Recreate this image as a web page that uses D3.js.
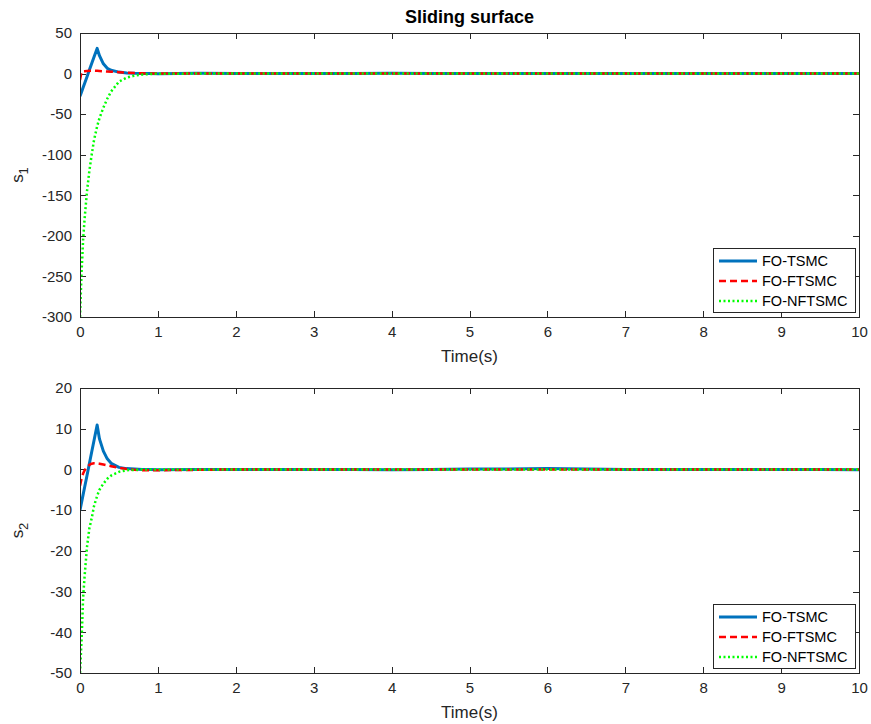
<!DOCTYPE html>
<html>
<head>
<meta charset="utf-8">
<title>Sliding surface</title>
<script src="https://cdn.jsdelivr.net/npm/d3@7"></script>
<style>
  body { margin: 0; background: #fff; }
  svg { font-family: "Liberation Sans", Arial, Helvetica, sans-serif; }
  .axis text { font-size: 15px; fill: #262626; }
  .axis line { stroke: #262626; shape-rendering: crispEdges; }
  .frame { fill: none; stroke: #262626; shape-rendering: crispEdges; }
  .lbl { font-size: 17px; fill: #262626; }
  .leg text { font-size: 14.5px; fill: #000; }
</style>
</head>
<body>
<script>
// time samples (s) - dense near the start where things move
var time = [0, 0.02, 0.04, 0.06, 0.09, 0.12, 0.15, 0.18, 0.22, 0.25, 0.3, 0.35, 0.4, 0.5, 0.6, 0.7, 0.8, 0.9, 1,
            1.5, 2, 2.5, 3, 3.5, 4, 4.5, 5, 5.5, 6, 6.5, 7, 7.5, 8, 8.5, 9, 9.5, 10];

// s1
var s1_tsmc   = [-28, -22.6, -17.2, -11.8, -3.8, 4.3, 12.3, 20.3, 31, 22, 12, 6.5, 4, 1.8, 0.8, 0.3, 0.1, 0, -0.2,
                 0.4, 0, 0.2, 0.1, 0, 0.3, 0.1, 0.2, 0, 0.1, 0, 0.1, 0, 0, 0.1, 0, 0, 0];
var s1_ftsmc  = [-8, 2.3, 2.8, 3, 3.3, 3.5, 3.6, 3.6, 3.4, 3.2, 2.9, 2.6, 2.3, 1.7, 1.1, 0.6, 0.3, 0.1, 0,
                 0, 0, 0, 0, 0, 0, 0, 0, 0, 0, 0, 0, 0, 0, 0, 0, 0, 0];
var s1_nftsmc = [-300, -245, -205, -178, -145, -120, -100, -82, -65, -55, -42, -31, -22, -10, -5, -2.5, -1.2, -0.5, -0.2,
                 0, 0, 0, 0, 0, 0, 0, 0, 0, 0, 0, 0, 0, 0, 0, 0, 0, 0];

// s2
var s2_tsmc   = [-10, -8.1, -6.2, -4.3, -1.5, 1.4, 4.3, 7.1, 10.9, 7.5, 4.5, 2.6, 1.5, 0.5, 0.2, 0.1, 0, 0, -0.1,
                 0, 0, 0, 0, 0, -0.1, 0, 0.1, 0.1, 0.2, 0.1, 0, 0, 0, 0, 0, 0, -0.1];
var s2_ftsmc  = [-4, -2.2, -1, -0.2, 0.6, 1.1, 1.4, 1.5, 1.5, 1.4, 1.2, 1, 0.8, 0.4, 0.1, -0.1, -0.2, -0.2, -0.2,
                 -0.1, 0, 0, 0, 0, 0, 0, 0, 0, 0, 0, 0, 0, 0, 0, 0, 0, 0];
var s2_nftsmc = [-50, -42, -31.5, -26, -19, -14.5, -12, -9, -6.5, -5, -3.5, -2.3, -1.5, -0.6, -0.2, -0.1, 0, 0, 0,
                 0, 0, 0, 0, 0, 0, 0, 0, 0, 0, 0, 0, 0, 0, 0, 0, 0, 0];

var seriesNames = ["FO-TSMC", "FO-FTSMC", "FO-NFTSMC"];
var xTicks = [0, 1, 2, 3, 4, 5, 6, 7, 8, 9, 10];
var s1Ticks = [-300, -250, -200, -150, -100, -50, 0, 50];
var s2Ticks = [-50, -40, -30, -20, -10, 0, 10, 20];

// line styles per series
var styles = [
  {color: "#0072BD", width: 3, dash: null},
  {color: "#FF0000", width: 2.5, dash: "7,4"},
  {color: "#00FF00", width: 2.5, dash: "2,2.5"}
];

var width = 871, height = 724;
var svg = d3.select("body").append("svg")
    .attr("width", width)
    .attr("height", height);

// title
svg.append("text")
    .attr("x", 469.5).attr("y", 23)
    .attr("text-anchor", "middle")
    .style("font-size", "18px").style("font-weight", "bold").style("fill", "#000")
    .text("Sliding surface");

// plain hyphen for negatives, like matlab
var fmt = function(d) { return String(d); };

function panel(id, box, yDomain, yTicks, data, sub) {
  var x = d3.scaleLinear().domain([0, 10]).range([box.left, box.right]);
  var y = d3.scaleLinear().domain(yDomain).range([box.bottom, box.top]);
  var g = svg.append("g");

  g.append("clipPath").attr("id", id)
    .append("rect")
    .attr("x", box.left).attr("y", box.top)
    .attr("width", box.right - box.left).attr("height", box.bottom - box.top);

  // axes with inward ticks
  g.append("g").attr("class", "axis")
    .attr("transform", "translate(0," + box.bottom + ")")
    .call(d3.axisBottom(x).tickValues(xTicks).tickSizeInner(-6).tickSizeOuter(0).tickPadding(9).tickFormat(fmt));
  g.append("g").attr("class", "axis")
    .attr("transform", "translate(0," + box.top + ")")
    .call(d3.axisTop(x).tickValues(xTicks).tickSizeInner(-6).tickSizeOuter(0).tickFormat(""));
  g.append("g").attr("class", "axis")
    .attr("transform", "translate(" + box.left + ",0)")
    .call(d3.axisLeft(y).tickValues(yTicks).tickSizeInner(-6).tickSizeOuter(0).tickPadding(8).tickFormat(fmt));
  g.append("g").attr("class", "axis")
    .attr("transform", "translate(" + box.right + ",0)")
    .call(d3.axisRight(y).tickValues(yTicks).tickSizeInner(-6).tickSizeOuter(0).tickFormat(""));
  g.selectAll(".axis .domain").remove();

  var line = d3.line()
    .x(function(d, i) { return x(time[i]); })
    .y(function(d) { return y(d); });

  data.forEach(function(vals, k) {
    var s = styles[k];
    g.append("path")
      .attr("d", line(vals))
      .attr("clip-path", "url(#" + id + ")")
      .attr("fill", "none")
      .attr("stroke", s.color)
      .attr("stroke-width", s.width)
      .attr("stroke-linejoin", "round")
      .attr("stroke-dasharray", s.dash);
  });

  g.append("rect").attr("class", "frame")
    .attr("x", box.left).attr("y", box.top)
    .attr("width", box.right - box.left).attr("height", box.bottom - box.top);

  // axis labels
  g.append("text").attr("class", "lbl")
    .attr("x", (box.left + box.right) / 2).attr("y", box.bottom + 45)
    .attr("text-anchor", "middle")
    .text("Time(s)");
  var yl = g.append("text").attr("class", "lbl")
    .attr("transform", "translate(23," + ((box.top + box.bottom) / 2) + ") rotate(-90)")
    .attr("text-anchor", "middle");
  yl.append("tspan").text("s");
  yl.append("tspan").attr("dy", 5).style("font-size", "13px").text(sub);

  // legend
  var lw = 142, lh = 64;
  var lx = box.right - 4 - lw, ly = box.bottom - 5 - lh;
  var leg = g.append("g").attr("class", "leg");
  leg.append("rect")
    .attr("x", lx).attr("y", ly).attr("width", lw).attr("height", lh)
    .attr("fill", "#fff").attr("stroke", "#262626").style("shape-rendering", "crispEdges");
  seriesNames.forEach(function(name, k) {
    var yy = ly + 13 + k * 20;
    var s = styles[k];
    leg.append("line")
      .attr("x1", lx + 6).attr("x2", lx + 44).attr("y1", yy).attr("y2", yy)
      .attr("stroke", s.color).attr("stroke-width", s.width)
      .attr("stroke-dasharray", s.dash);
    leg.append("text")
      .attr("x", lx + 49).attr("y", yy).attr("dy", "0.35em")
      .text(name);
  });
}

panel("clip1", {left: 80, right: 859, top: 33, bottom: 317}, [-300, 50], s1Ticks,
      [s1_tsmc, s1_ftsmc, s1_nftsmc], "1");
panel("clip2", {left: 80, right: 859, top: 388, bottom: 673}, [-50, 20], s2Ticks,
      [s2_tsmc, s2_ftsmc, s2_nftsmc], "2");
</script>
</body>
</html>
